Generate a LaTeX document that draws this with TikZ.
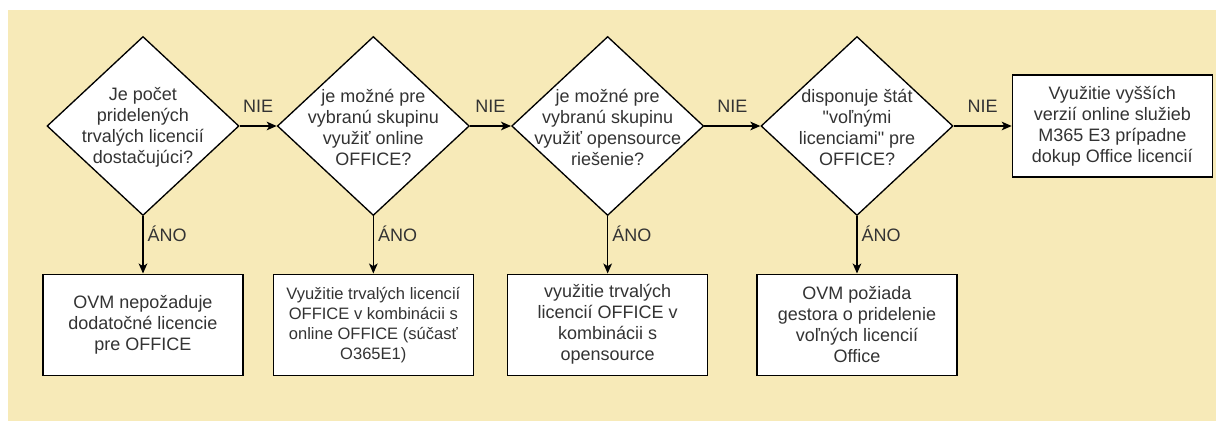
\documentclass[tikz,border=0pt]{standalone}
\usepackage{fontspec}
\setmainfont{Liberation Sans}
\usetikzlibrary{shapes.geometric, arrows.meta, positioning}
\definecolor{bgyellow}{RGB}{247,234,184}
\definecolor{inkgray}{RGB}{51,51,51}
\newcommand\straightquote{\XeTeXglyph\XeTeXglyphindex"quotedbl"\relax}
\tikzset{
    decision/.style={
        diamond,
        draw=black,
        line width=1pt,
        minimum width=144pt,
        minimum height=134.25pt,
        inner sep=0pt,
        fill=white
    },
    decisiontext/.style={
        align=center,
        inner sep=0pt,
        text=inkgray,
        font=\fontsize{13.5}{15.75}\selectfont
    },
    outcome/.style={
        rectangle,
        draw=black,
        line width=1pt,
        minimum width=150pt,
        minimum height=75.75pt,
        inner sep=2pt,
        fill=white,
        align=center,
        text=inkgray,
        font=\fontsize{13.5}{15.75}\selectfont
    },
    flow/.style={
        draw=black,
        line width=1pt,
        -{Stealth[length=7.5pt, width=6.5pt, inset=2pt]}
    },
    answer/.style={
        font=\fontsize{13.5}{15.75}\selectfont,
        text=inkgray,
        inner sep=0pt
    }
}

\begin{document}
\begin{tikzpicture}

% Canvas
\useasboundingbox (-107.25pt,94.5pt) rectangle (809.25pt,-222pt);
\fill[bgyellow] (-101.25pt,87pt) rectangle (804.75pt,-221.25pt);

% Top row - decisions
\node[decision] (q1) at (0,0) {};
\node[decision, right=27.75pt of q1] (q2) {};
\node[decision, right=30.75pt of q2] (q3) {};
\node[decision, right=42pt of q3] (q4) {};
\node[outcome, right=43.5pt of q4, minimum height=76.5pt] (upgrade) {Využitie vyšších\\verzií online služieb\\M365 E3 prípadne\\dokup Office licencií};

\node[decisiontext, yshift=-1pt] (q1text) at (q1) {Je počet\\pridelených\\trvalých licencií\\dostačujúci?};
\node[decisiontext, yshift=-1pt] (q2text) at (q2) {je možné pre\\vybranú skupinu\\využiť online\\OFFICE?};
\node[decisiontext, yshift=-1pt] (q3text) at (q3) {je možné pre\\vybranú skupinu\\využiť opensource\\riešenie?};
\node[decisiontext, yshift=-1pt] (q4text) at (q4) {disponuje štát\\\straightquote voľnými\\licenciami\straightquote{} pre\\OFFICE?};

% Bottom row - outcomes
\node[outcome, below=43pt of q1] (keep) {OVM nepožaduje\\dodatočné licencie\\pre OFFICE};
\node[outcome, below=43pt of q2, font=\fontsize{12.4}{15}\selectfont] (online) {Využitie trvalých licencií\\OFFICE v kombinácii s\\online OFFICE (súčasť\\O365E1)};
\node[outcome, below=43pt of q3] (opensrc) {využitie trvalých\\licencií OFFICE v\\kombinácii s\\opensource};
\node[outcome, below=43pt of q4] (request) {OVM požiada\\gestora o pridelenie\\voľných licencií\\Office};

% Connections - NIE
\draw[flow] (q1) -- node[answer, above=10pt] (nie1) {NIE} (q2);
\draw[flow] (q2) -- node[answer, above=10pt] (nie2) {NIE} (q3);
\draw[flow] (q3) -- node[answer, above=10pt] (nie3) {NIE} (q4);
\draw[flow] (q4) -- node[answer, above=10pt] (nie4) {NIE} (upgrade);

% Connections - ÁNO
\draw[flow] (q1) -- node[answer, pos=0.3, right=3pt] (ano1) {ÁNO} (keep);
\draw[flow] (q2) -- node[answer, pos=0.3, right=3pt] (ano2) {ÁNO} (online);
\draw[flow] (q3) -- node[answer, pos=0.3, right=3pt] (ano3) {ÁNO} (opensrc);
\draw[flow] (q4) -- node[answer, pos=0.3, right=3pt] (ano4) {ÁNO} (request);

\end{tikzpicture}
\end{document}
